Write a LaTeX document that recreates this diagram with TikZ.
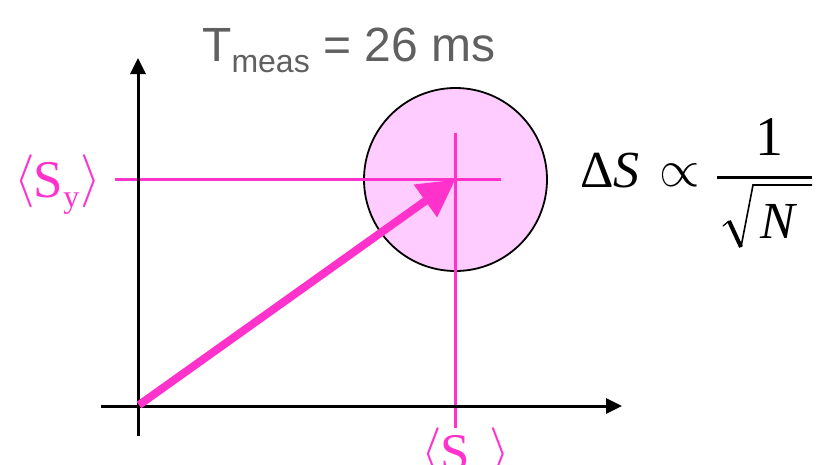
\RequirePackage{fix-cm}
\documentclass[tikz,border=0pt]{standalone}
\usepackage{fontspec}
\setmainfont{Liberation Serif}
\newfontfamily\titlefont{Liberation Sans}
\usetikzlibrary{arrows.meta}
\definecolor{mag}{HTML}{FF33CC}
\definecolor{blobfill}{HTML}{FFCCFF}
\definecolor{titlegray}{HTML}{606060}
\begin{document}
\begin{tikzpicture}[x=1pt,y=-1pt,
  axis/.style={line width=3pt, -{Triangle[length=16pt,width=15pt]}},
  guide/.style={mag, line width=2.4pt},
  vec/.style={mag, line width=8pt, -{Triangle[length=37pt,width=38pt]}},
  lbl/.style={inner sep=0pt, text=mag, font=\fontsize{53}{60}\selectfont},
  eqtxt/.style={inner sep=0pt, font=\fontsize{52}{60}\selectfont},
]
\useasboundingbox (0,0) rectangle (819,464);
\node[circle, draw=black, line width=1.8pt, fill=blobfill, minimum size=183pt, inner sep=0pt] (blob) at (455.5,179.5) {};
\coordinate (hl) at (115,179.5);
\coordinate (hr) at (501,179.5);
\coordinate (vt) at (455.5,133);
\coordinate (vb) at (455.5,428);
\draw[guide] (hl) -- (hr);
\draw[guide] (vt) -- (vb);
\coordinate (xs) at (101,406);
\coordinate (xe) at (622,406);
\coordinate (ys) at (138,436);
\coordinate (ye) at (138,58);
\coordinate (o) at (139,405);
\draw[axis] (xs) -- (xe);
\draw[axis] (ys) -- (ye);
\draw[vec] (o) -- (blob.center);
\node[lbl, anchor=base west] (sy) at (14,197) {\raisebox{3pt}{$\langle$}\kern-1pt S\raisebox{-10pt}{\fontsize{32}{36}\selectfont y}\kern1pt\raisebox{3pt}{$\rangle$}};
\node[lbl, anchor=base west] (sx) at (421,470) {\raisebox{3pt}{$\langle$}\kern-1pt S\raisebox{-10pt}{\fontsize{32}{36}\selectfont x}\kern3pt\raisebox{3pt}{$\rangle$}};
% formula
\node[eqtxt, anchor=base west] (ds) at (580,187) {Δ\textit{S}};
\node[eqtxt] (prop) at (680,175) {$\propto$};
\node[eqtxt, anchor=base, font=\fontsize{56}{60}\selectfont] (one) at (769,155) {1};
\coordinate (bl) at (717,177);
\coordinate (br) at (812,177);
\draw[line width=3pt] (bl) -- (br);
\coordinate (r1) at (723,226);
\coordinate (r2) at (729,221);
\coordinate (r3) at (741,247);
\coordinate (r4) at (753,185);
\coordinate (r5) at (812,185);
\draw[line width=1.3pt, line cap=round] (r1) -- (r2);
\draw[line width=4pt] (r2) -- (r3);
\draw[line width=1.6pt, line join=miter] (r3) -- (r4) -- (r5);
\node[eqtxt, anchor=base west] (nn) at (760,238) {\textit{N}};
\node[inner sep=0pt, anchor=base west, text=titlegray, font=\titlefont\fontsize{48}{56}\selectfont] (title) at (202,61) {T\raisebox{-11pt}{\fontsize{32}{40}\selectfont meas} = 26 ms};
\end{tikzpicture}
\end{document}
